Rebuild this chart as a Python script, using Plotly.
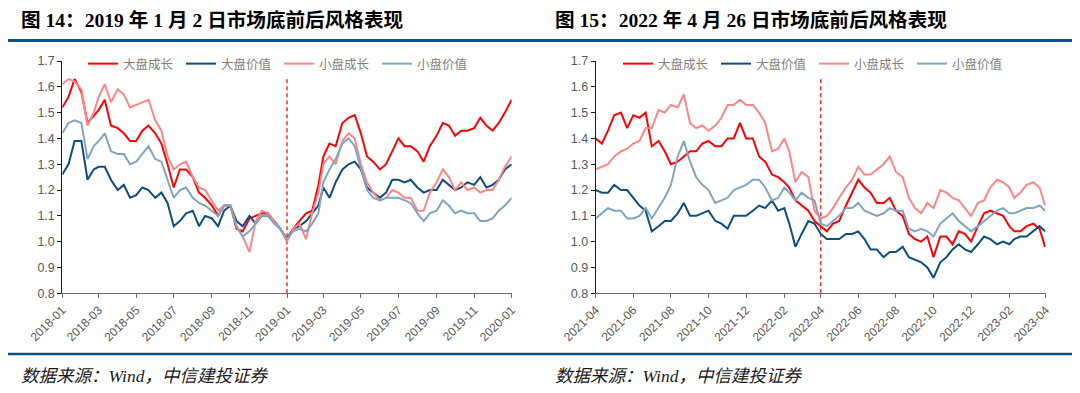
import plotly.graph_objects as go

# ---------------- data ----------------
SERIES_NAMES = ["大盘成长", "大盘价值", "小盘成长", "小盘价值"]
COLORS = ["#FF0000", "#0E4D7C", "#FF8585", "#80A5C1"]

# Chart 14: 2018-01 .. 2020-01 (sampled on the 2nd, 12th, 22nd of each month)
L_DATES = [f"{y}-{m:02d}-{d:02d}" for y in (2018, 2019) for m in range(1, 13) for d in (2, 12, 22)] + ["2020-01-02"]
L_LARGE_GROWTH = [
    1.52, 1.56, 1.63, 1.58, 1.46, 1.49, 1.51, 1.55, 1.45, 1.44, 1.42, 1.39,
    1.39, 1.43, 1.45, 1.42, 1.38, 1.30, 1.21, 1.28, 1.28, 1.25, 1.19, 1.17,
    1.14, 1.10, 1.14, 1.14, 1.05, 1.04, 1.09, 1.10, 1.11, 1.11, 1.08, 1.05,
    1.01, 1.05, 1.08, 1.11, 1.12, 1.22, 1.33, 1.38, 1.37, 1.46, 1.48, 1.49,
    1.42, 1.33, 1.31, 1.28, 1.30, 1.35, 1.40, 1.37, 1.37, 1.35, 1.31, 1.37,
    1.41, 1.46, 1.45, 1.41, 1.43, 1.43, 1.44, 1.48, 1.45, 1.43, 1.46, 1.50,
    1.55]
L_LARGE_VALUE = [
    1.26, 1.30, 1.39, 1.39, 1.24, 1.28, 1.29, 1.29, 1.24, 1.20, 1.22, 1.17,
    1.18, 1.21, 1.20, 1.17, 1.19, 1.15, 1.06, 1.08, 1.11, 1.12, 1.06, 1.10,
    1.09, 1.06, 1.12, 1.14, 1.08, 1.06, 1.10, 1.07, 1.10, 1.10, 1.08, 1.05,
    1.01, 1.05, 1.06, 1.08, 1.11, 1.14, 1.21, 1.17, 1.23, 1.28, 1.30, 1.31,
    1.28, 1.21, 1.19, 1.17, 1.19, 1.24, 1.24, 1.23, 1.24, 1.21, 1.19, 1.20,
    1.20, 1.24, 1.22, 1.20, 1.21, 1.23, 1.22, 1.25, 1.21, 1.22, 1.24, 1.28,
    1.30]
L_SMALL_GROWTH = [
    1.61, 1.63, 1.62, 1.59, 1.45, 1.50, 1.56, 1.61, 1.54, 1.59, 1.57, 1.52,
    1.53, 1.54, 1.55, 1.47, 1.43, 1.33, 1.28, 1.30, 1.31, 1.25, 1.21, 1.20,
    1.16, 1.12, 1.14, 1.14, 1.06, 1.02, 0.96, 1.08, 1.12, 1.11, 1.08, 1.05,
    1.00, 1.05, 1.07, 1.01, 1.11, 1.19, 1.30, 1.33, 1.30, 1.39, 1.42, 1.40,
    1.30, 1.23, 1.19, 1.16, 1.17, 1.20, 1.19, 1.17, 1.17, 1.12, 1.12, 1.19,
    1.23, 1.28, 1.25, 1.20, 1.23, 1.20, 1.21, 1.19, 1.20, 1.20, 1.24, 1.29,
    1.33]
L_SMALL_VALUE = [
    1.42, 1.46, 1.47, 1.46, 1.32, 1.37, 1.39, 1.42, 1.35, 1.34, 1.34, 1.30,
    1.31, 1.34, 1.37, 1.32, 1.31, 1.24, 1.17, 1.20, 1.21, 1.17, 1.15, 1.14,
    1.12, 1.10, 1.14, 1.14, 1.06, 1.02, 1.04, 1.07, 1.10, 1.10, 1.07, 1.05,
    1.01, 1.04, 1.05, 1.04, 1.07, 1.11, 1.23, 1.28, 1.32, 1.38, 1.40, 1.37,
    1.28, 1.20, 1.17, 1.16, 1.17, 1.17, 1.17, 1.16, 1.15, 1.11, 1.08, 1.11,
    1.12, 1.16, 1.14, 1.11, 1.12, 1.11, 1.11, 1.08, 1.08, 1.09, 1.12, 1.14,
    1.17]

# Chart 15: 2021-04-26 .. 2023-04 (sampled on the 6th, 16th, 26th of each month)
R_DATES = ["2021-04-26"] + [f"{y}-{m:02d}-{d:02d}"
                            for (y, m) in [(2021, mm) for mm in range(5, 13)] + [(2022, mm) for mm in range(1, 13)] + [(2023, mm) for mm in range(1, 5)]
                            for d in (6, 16, 26)]
R_DATES[-1] = "2023-04-25"
R_LARGE_GROWTH = [
    1.40,
    1.38, 1.43, 1.49, 1.50, 1.44, 1.49, 1.48, 1.50, 1.37, 1.39, 1.35, 1.30,
    1.31, 1.33, 1.35, 1.35, 1.38, 1.39, 1.37, 1.37, 1.40, 1.40, 1.46, 1.40,
    1.40, 1.33, 1.31, 1.26, 1.25, 1.23, 1.21, 1.16, 1.14, 1.12, 1.08, 1.06,
    1.04, 1.07, 1.08, 1.14, 1.19, 1.24, 1.21, 1.19, 1.15, 1.15, 1.17, 1.12,
    1.10, 1.03, 1.01, 1.00, 1.02, 0.94, 1.02, 1.02, 0.99, 1.04, 1.03, 1.00,
    1.06, 1.11, 1.12, 1.11, 1.10, 1.06, 1.04, 1.04, 1.06, 1.07, 1.05, 0.98]
R_LARGE_VALUE = [
    1.20,
    1.19, 1.19, 1.22, 1.20, 1.20, 1.17, 1.14, 1.12, 1.04, 1.06, 1.08, 1.08,
    1.11, 1.15, 1.10, 1.10, 1.11, 1.12, 1.08, 1.07, 1.05, 1.10, 1.10, 1.10,
    1.12, 1.14, 1.13, 1.16, 1.12, 1.13, 1.07, 0.98, 1.03, 1.08, 1.07, 1.03,
    1.01, 1.01, 1.01, 1.03, 1.03, 1.04, 1.01, 0.97, 0.97, 0.94, 0.96, 0.96,
    0.98, 0.94, 0.93, 0.92, 0.90, 0.86, 0.92, 0.94, 0.97, 0.99, 0.97, 0.96,
    0.99, 1.02, 1.01, 0.99, 1.00, 0.99, 1.01, 1.02, 1.02, 1.04, 1.06, 1.04]
R_SMALL_GROWTH = [
    1.28,
    1.29, 1.30, 1.33, 1.35, 1.36, 1.38, 1.39, 1.44, 1.44, 1.51, 1.50, 1.53,
    1.52, 1.57, 1.46, 1.44, 1.45, 1.43, 1.45, 1.48, 1.53, 1.53, 1.55, 1.53,
    1.53, 1.50, 1.46, 1.35, 1.36, 1.40, 1.35, 1.23, 1.27, 1.25, 1.12, 1.09,
    1.10, 1.13, 1.17, 1.21, 1.24, 1.29, 1.26, 1.26, 1.28, 1.30, 1.33, 1.27,
    1.25, 1.17, 1.13, 1.11, 1.15, 1.13, 1.20, 1.19, 1.17, 1.16, 1.13, 1.10,
    1.15, 1.16, 1.21, 1.24, 1.23, 1.21, 1.17, 1.19, 1.22, 1.23, 1.21, 1.14]
R_SMALL_VALUE = [
    1.09,
    1.11, 1.13, 1.12, 1.12, 1.09, 1.09, 1.10, 1.13, 1.09, 1.13, 1.17, 1.22,
    1.33, 1.39, 1.31, 1.25, 1.22, 1.20, 1.15, 1.16, 1.17, 1.20, 1.21, 1.22,
    1.24, 1.24, 1.21, 1.16, 1.17, 1.21, 1.19, 1.16, 1.19, 1.17, 1.16, 1.07,
    1.06, 1.08, 1.10, 1.13, 1.13, 1.15, 1.12, 1.11, 1.10, 1.11, 1.13, 1.12,
    1.12, 1.05, 1.04, 1.05, 1.04, 1.02, 1.07, 1.09, 1.11, 1.08, 1.06, 1.04,
    1.06, 1.08, 1.10, 1.12, 1.13, 1.11, 1.11, 1.12, 1.13, 1.13, 1.14, 1.12]

L_MARK_DATE = "2019-01-02"
R_MARK_DATE = "2022-04-26"
L_TICKS = [f"{2018 + k // 6}-{(k % 6) * 2 + 1:02d}-02" for k in range(12)] + ["2020-01-02"]
R_TICKS = []
for k in range(13):
    mi = 3 + 2 * k  # month index starting from April 2021
    R_TICKS.append(f"{2021 + mi // 12}-{mi % 12 + 1:02d}-26")
Y_TICKS = [0.8, 0.9, 1.0, 1.1, 1.2, 1.3, 1.4, 1.5, 1.6, 1.7]

TITLE_L = "图 14：2019 年 1 月 2 日市场底前后风格表现"
TITLE_R = "图 15：2022 年 4 月 26 日市场底前后风格表现"
SOURCE = "数据来源：<i>Wind</i>，中信建投证券"

# ---------------- figure ----------------
# The page body has an 8px default margin, so the figure is sized to fill the
# rest of the 1080x393 window and window-pixel positions are shifted by it.
OFF = 8
W, H = 1080 - OFF, 393 - OFF
fig = go.Figure()

def px_x(p):
    return (p - OFF) / W

def px_y(p):
    return 1 - (p - OFF) / H

panels = [
    dict(xa="x", ya="y", leg="legend", dates=L_DATES, mark=L_MARK_DATE,
         series=[L_LARGE_GROWTH, L_LARGE_VALUE, L_SMALL_GROWTH, L_SMALL_VALUE]),
    dict(xa="x2", ya="y2", leg="legend2", dates=R_DATES, mark=R_MARK_DATE,
         series=[R_LARGE_GROWTH, R_LARGE_VALUE, R_SMALL_GROWTH, R_SMALL_VALUE]),
]

for p in panels:
    fig.add_trace(go.Scatter(x=[p["mark"], p["mark"]], y=[0.8, 1.635], mode="lines",
                             line=dict(color="#FF2A2A", width=1.5, dash="4px,3px"),
                             xaxis=p["xa"], yaxis=p["ya"], showlegend=False, hoverinfo="skip"))
    for name, col, vals in zip(SERIES_NAMES, COLORS, p["series"]):
        fig.add_trace(go.Scatter(x=p["dates"], y=vals, name=name, mode="lines",
                                 line=dict(color=col, width=2),
                                 xaxis=p["xa"], yaxis=p["ya"], legend=p["leg"]))

tickfont = dict(family="Liberation Sans, Arial", size=12, color="#595959")
ytickfont = dict(family="Liberation Sans, Arial", size=12.5, color="#595959")

def xaxis(domain, ticks, anchor):
    return dict(domain=domain, type="date", range=[ticks[0], ticks[-1]], tickvals=ticks,
                ticktext=[t[:7] for t in ticks], tickangle=-45, showgrid=False, zeroline=False,
                showline=True, linecolor="#6e6e6e", linewidth=1, ticks="outside", ticklen=4,
                tickcolor="#6e6e6e", tickfont=tickfont, anchor=anchor, fixedrange=True,
                automargin=False)

def yaxis(domain, anchor):
    return dict(domain=domain, range=[0.8, 1.7], tickvals=Y_TICKS, tickformat=".1f",
                showgrid=False, zeroline=False, showline=True, linecolor="#1a1a1a", linewidth=1,
                ticks="outside", ticklen=4, tickcolor="#1a1a1a", tickfont=ytickfont,
                anchor=anchor, fixedrange=True, automargin=False)

ydom = [px_y(293.3), px_y(61)]
legend_common = dict(orientation="h", yanchor="middle", xanchor="left", bgcolor="rgba(0,0,0,0)",
                     borderwidth=0, entrywidth=53, entrywidthmode="pixels",
                     font=dict(family="Noto Sans CJK SC", size=12.5, color="#7f7f7f"),
                     itemclick=False, itemdoubleclick=False, tracegroupgap=0)

fig.update_layout(
    template="none",
    width=W, height=H, margin=dict(l=0, r=0, t=0, b=0, pad=0, autoexpand=False),
    paper_bgcolor="white", plot_bgcolor="white", showlegend=True,
    xaxis=xaxis([px_x(62.3), px_x(511.7)], L_TICKS, "y"),
    yaxis=yaxis(ydom, "x"),
    xaxis2=xaxis([px_x(595.7), px_x(1045.7)], R_TICKS, "y2"),
    yaxis2=yaxis(ydom, "x2"),
    legend=dict(legend_common, x=px_x(83), y=px_y(64)),
    legend2=dict(legend_common, x=px_x(618), y=px_y(64)),
)

title_font = dict(family="Liberation Serif, Noto Sans CJK SC", size=19.6, color="#000000", weight="bold")
src_font = dict(family="Liberation Serif, Noto Sans CJK SC", size=17.5, color="#1a1a1a", style="italic")
for x0, t in ((19, TITLE_L), (553, TITLE_R)):
    fig.add_annotation(text=t, x=px_x(x0), y=px_y(20.5), xref="paper", yref="paper",
                       xanchor="left", yanchor="middle", showarrow=False, font=title_font)
for x0 in (19, 553):
    fig.add_annotation(text=SOURCE, x=px_x(x0), y=px_y(376), xref="paper", yref="paper",
                       xanchor="left", yanchor="middle", showarrow=False, font=src_font)

fig.add_shape(type="line", xref="paper", yref="paper", x0=px_x(8), x1=px_x(1074),
              y0=px_y(40.5), y1=px_y(40.5), line=dict(color="#11507F", width=3))
fig.add_shape(type="line", xref="paper", yref="paper", x0=px_x(8), x1=px_x(1074),
              y0=px_y(354), y1=px_y(354), line=dict(color="#11507F", width=2.5))

fig.write_html("out.html", config={"displayModeBar": False})
